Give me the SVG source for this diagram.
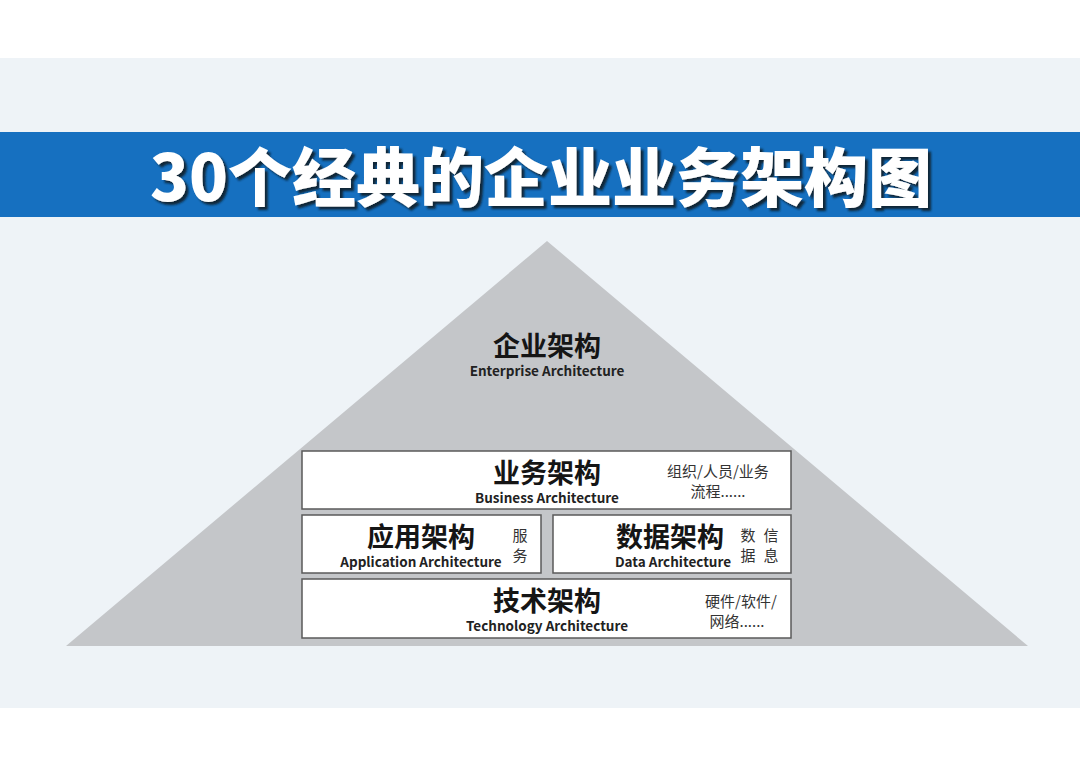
<svg xmlns="http://www.w3.org/2000/svg" width="1080" height="764" viewBox="0 0 1080 764">
  <defs>
    <filter id="shadow" x="-5%" y="-20%" width="110%" height="140%">
      <feDropShadow dx="3" dy="3" stdDeviation="1" flood-color="#0b1a2c" flood-opacity="0.9"/>
    </filter>
  </defs>
  <style>
    .head { font-family: "Noto Sans CJK SC", sans-serif; font-weight: 700; font-size: 27px; fill: #151515; text-anchor: middle; }
    .en { font-family: "Noto Sans CJK SC", "Open Sans", sans-serif; font-weight: 700; font-size: 13.5px; fill: #222; text-anchor: middle; }
    .note { font-family: "Noto Sans CJK SC", sans-serif; font-weight: 400; font-size: 15px; fill: #333; text-anchor: middle; }
    .box { fill: #ffffff; stroke: #5a5a5a; stroke-width: 1.5; }
    .title { font-family: "Noto Sans CJK SC", sans-serif; font-weight: 900; font-size: 64px; text-anchor: middle; fill: #ffffff; }
  </style>
  <rect x="0" y="0" width="1080" height="764" fill="#ffffff"/>
  <rect x="0" y="58" width="1080" height="650" fill="#eef3f7"/>

  <g id="title-band">
    <rect x="0" y="132" width="1080" height="85" fill="#1670c0"/>
    <text class="title" x="541" y="201" filter="url(#shadow)">30个经典的企业业务架构图</text>
  </g>

  <g id="enterprise">
    <polygon points="547,241 1028,646 66,646" fill="#c4c6c9"/>
    <text class="head" x="547" y="356">企业架构</text>
    <text class="en" x="547" y="376">Enterprise Architecture</text>
  </g>

  <g id="business">
    <rect class="box" x="302" y="451" width="489" height="58"/>
    <text class="head" x="547" y="483">业务架构</text>
    <text class="en" x="547" y="503">Business Architecture</text>
    <text class="note" x="718" y="477">组织/人员/业务</text>
    <text class="note" x="718" y="497">流程......</text>
  </g>

  <g id="application">
    <rect class="box" x="302" y="515" width="239" height="58"/>
    <text class="head" x="421" y="547">应用架构</text>
    <text class="en" x="421" y="567">Application Architecture</text>
    <text class="note" x="520" y="541">服</text>
    <text class="note" x="520" y="561">务</text>
  </g>

  <g id="data">
    <rect class="box" x="553" y="515" width="238" height="58"/>
    <text class="head" x="670" y="547">数据架构</text>
    <text class="en" x="673" y="567">Data Architecture</text>
    <text class="note" x="748" y="541">数</text>
    <text class="note" x="771" y="541">信</text>
    <text class="note" x="748" y="561">据</text>
    <text class="note" x="771" y="561">息</text>
  </g>

  <g id="technology">
    <rect class="box" x="302" y="579" width="489" height="59"/>
    <text class="head" x="547" y="611">技术架构</text>
    <text class="en" x="547" y="631">Technology Architecture</text>
    <text class="note" x="741" y="607">硬件/软件/</text>
    <text class="note" x="737" y="627">网络......</text>
  </g>

  <g id="connectors"></g>
</svg>
